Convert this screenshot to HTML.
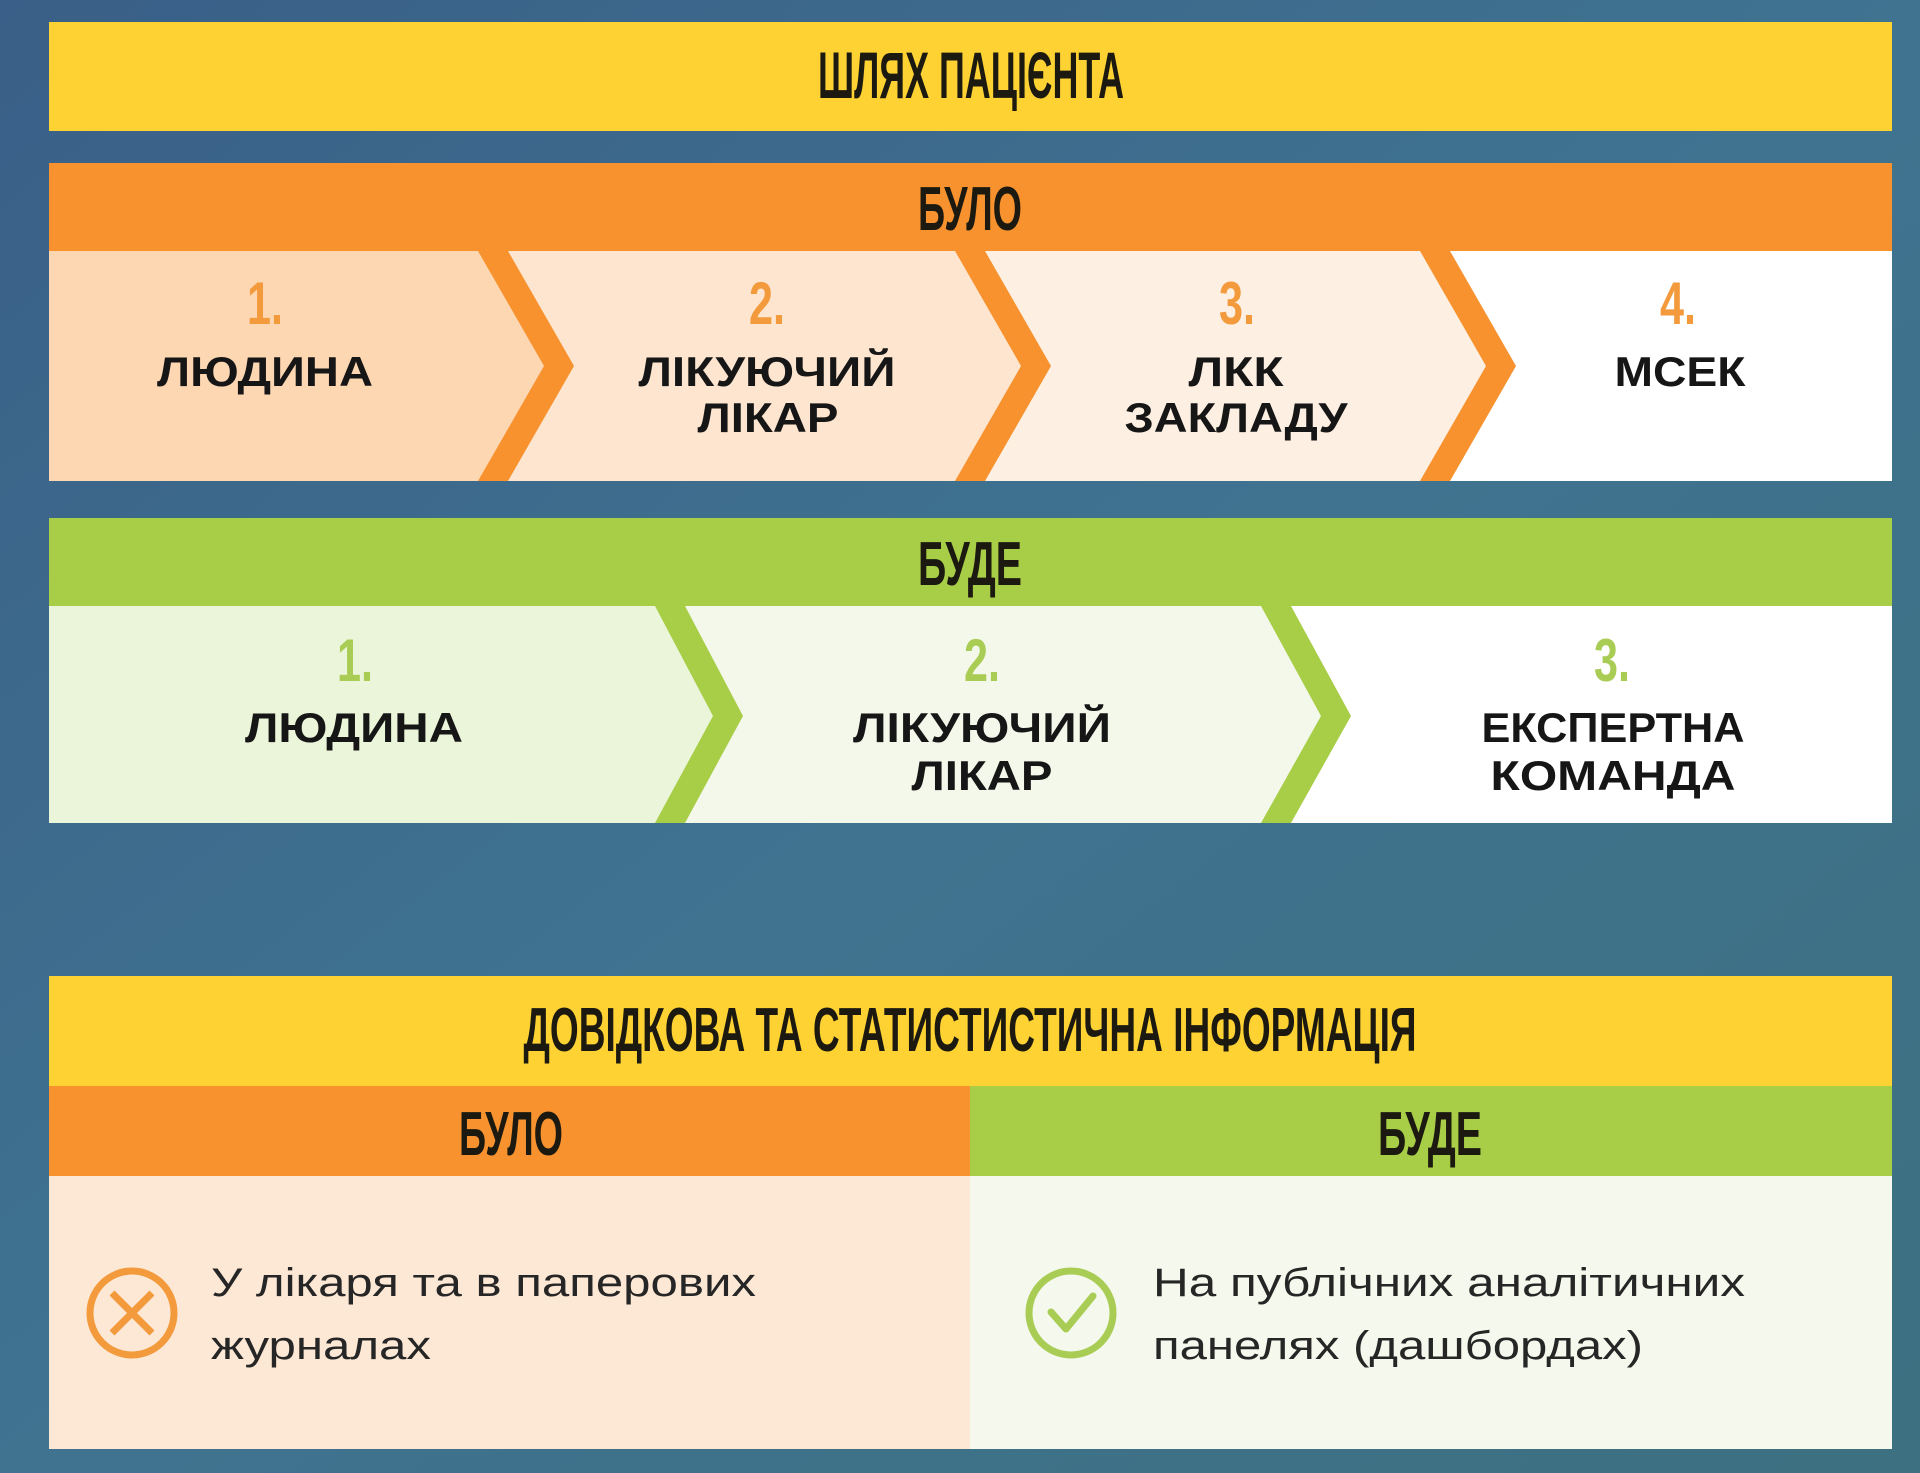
<!DOCTYPE html>
<html><head><meta charset="utf-8"><style>
html,body{margin:0;padding:0;width:1920px;height:1473px;overflow:hidden;background:#3d6a88}
svg{display:block}
.h{font-family:"Liberation Sans Narrow","Liberation Sans",sans-serif;font-weight:bold;fill:#1c1a10}
.n{font-family:"Liberation Sans Narrow","Liberation Sans",sans-serif;font-weight:bold}
.l{font-family:"Liberation Sans",sans-serif;font-weight:bold;fill:#161616;font-size:42px}
.t{font-family:"Liberation Sans",sans-serif;fill:#262626;font-size:40px}
</style></head><body>
<svg width="1920" height="1473" viewBox="0 0 1920 1473" xmlns="http://www.w3.org/2000/svg">
<defs><linearGradient id="bg" x1="0" y1="0" x2="1" y2="1"><stop offset="0" stop-color="#3a5f88"/><stop offset="0.5" stop-color="#3f7390"/><stop offset="1" stop-color="#3d7080"/></linearGradient></defs>
<rect width="1920" height="1473" fill="url(#bg)"/>
<rect x="49" y="22" width="1843" height="109" fill="#fdd232"/>
<text class="h" x="971" y="98" font-size="66" text-anchor="middle" textLength="306" lengthAdjust="spacingAndGlyphs">ШЛЯХ ПАЦІЄНТА</text>
<rect x="49" y="163" width="1843" height="89" fill="#f7922f"/>
<text class="h" x="970" y="230" font-size="62" text-anchor="middle" textLength="104" lengthAdjust="spacingAndGlyphs">БУЛО</text>
<rect x="49" y="251" width="1843" height="230" fill="#ffffff"/>
<polygon points="49,251 1435,251 1501,366 1435,481 49,481" fill="#fdefe2"/>
<polygon points="49,251 970,251 1036,366 970,481 49,481" fill="#fde5cf"/>
<polygon points="49,251 493,251 559,366 493,481 49,481" fill="#fdd6b2"/>
<g fill="#f7922f">
<polygon points="478,251 508,251 574,366 508,481 478,481 544,366"/>
<polygon points="955,251 985,251 1051,366 985,481 955,481 1021,366"/>
<polygon points="1420,251 1450,251 1516,366 1450,481 1420,481 1486,366"/>
</g>
<g class="n" fill="#f39a3c" font-size="60" text-anchor="middle">
<text x="265" y="324" textLength="36" lengthAdjust="spacingAndGlyphs">1.</text><text x="767" y="324" textLength="36" lengthAdjust="spacingAndGlyphs">2.</text><text x="1237" y="324" textLength="36" lengthAdjust="spacingAndGlyphs">3.</text><text x="1678" y="324" textLength="36" lengthAdjust="spacingAndGlyphs">4.</text>
</g>
<text class="l" x="265" y="386" text-anchor="middle" textLength="216" lengthAdjust="spacingAndGlyphs">ЛЮДИНА</text>
<text class="l" x="767" y="386" text-anchor="middle" textLength="257" lengthAdjust="spacingAndGlyphs">ЛІКУЮЧИЙ</text>
<text class="l" x="768" y="432" text-anchor="middle" textLength="141" lengthAdjust="spacingAndGlyphs">ЛІКАР</text>
<text class="l" x="1236" y="386" text-anchor="middle" textLength="95" lengthAdjust="spacingAndGlyphs">ЛКК</text>
<text class="l" x="1236" y="432" text-anchor="middle" textLength="223" lengthAdjust="spacingAndGlyphs">ЗАКЛАДУ</text>
<text class="l" x="1680" y="386" text-anchor="middle" textLength="131" lengthAdjust="spacingAndGlyphs">МСЕК</text>
<rect x="49" y="518" width="1843" height="89" fill="#a8cd47"/>
<text class="h" x="970" y="585" font-size="62" text-anchor="middle" textLength="104" lengthAdjust="spacingAndGlyphs">БУДЕ</text>
<rect x="49" y="606" width="1843" height="217" fill="#ffffff"/>
<polygon points="49,606 1276,606 1336,716 1276,823 49,823" fill="#f3f8ea"/>
<polygon points="49,606 670,606 728,716 670,823 49,823" fill="#eaf5d9"/>
<g fill="#a8cd47">
<polygon points="655,606 685,606 743,716 685,823 655,823 713,716"/>
<polygon points="1261,606 1291,606 1351,716 1291,823 1261,823 1321,716"/>
</g>
<g class="n" fill="#a9cc55" font-size="60" text-anchor="middle">
<text x="355" y="681" textLength="36" lengthAdjust="spacingAndGlyphs">1.</text><text x="982" y="681" textLength="36" lengthAdjust="spacingAndGlyphs">2.</text><text x="1612" y="681" textLength="36" lengthAdjust="spacingAndGlyphs">3.</text>
</g>
<text class="l" x="354" y="742" text-anchor="middle" textLength="218" lengthAdjust="spacingAndGlyphs">ЛЮДИНА</text>
<text class="l" x="982" y="742" text-anchor="middle" textLength="258" lengthAdjust="spacingAndGlyphs">ЛІКУЮЧИЙ</text>
<text class="l" x="982" y="790" text-anchor="middle" textLength="141" lengthAdjust="spacingAndGlyphs">ЛІКАР</text>
<text class="l" x="1613" y="742" text-anchor="middle" textLength="263" lengthAdjust="spacingAndGlyphs">ЕКСПЕРТНА</text>
<text class="l" x="1613" y="790" text-anchor="middle" textLength="245" lengthAdjust="spacingAndGlyphs">КОМАНДА</text>
<rect x="49" y="976" width="1843" height="111" fill="#fdd232"/>
<text class="h" x="970" y="1051" font-size="62" text-anchor="middle" textLength="893" lengthAdjust="spacingAndGlyphs">ДОВІДКОВА ТА СТАТИСТИСТИЧНА ІНФОРМАЦІЯ</text>
<rect x="49" y="1086" width="921" height="91" fill="#f7922f"/>
<rect x="970" y="1086" width="922" height="91" fill="#a8cd47"/>
<text class="h" x="511" y="1155" font-size="62" text-anchor="middle" textLength="104" lengthAdjust="spacingAndGlyphs">БУЛО</text>
<text class="h" x="1430" y="1155" font-size="62" text-anchor="middle" textLength="104" lengthAdjust="spacingAndGlyphs">БУДЕ</text>
<rect x="49" y="1176" width="921" height="273" fill="#fde8d5"/>
<rect x="970" y="1176" width="922" height="273" fill="#f5f8ec"/>
<g fill="none" stroke="#f39a3c" stroke-width="7">
<circle cx="132" cy="1313" r="42"/>
<line x1="112" y1="1293" x2="152" y2="1333"/><line x1="152" y1="1293" x2="112" y2="1333"/>
</g>
<g fill="none" stroke="#a9cc55" stroke-width="7">
<circle cx="1071" cy="1313" r="42"/>
<polyline points="1051,1312 1066,1329 1093,1296" stroke-linecap="round" stroke-linejoin="round"/>
</g>
<text class="t" x="211" y="1296" textLength="545" lengthAdjust="spacingAndGlyphs">У лікаря та в паперових</text>
<text class="t" x="211" y="1359" textLength="220" lengthAdjust="spacingAndGlyphs">журналах</text>
<text class="t" x="1153" y="1296" textLength="592" lengthAdjust="spacingAndGlyphs">На публічних аналітичних</text>
<text class="t" x="1153" y="1359" textLength="490" lengthAdjust="spacingAndGlyphs">панелях (дашбордах)</text>
</svg>
</body></html>
